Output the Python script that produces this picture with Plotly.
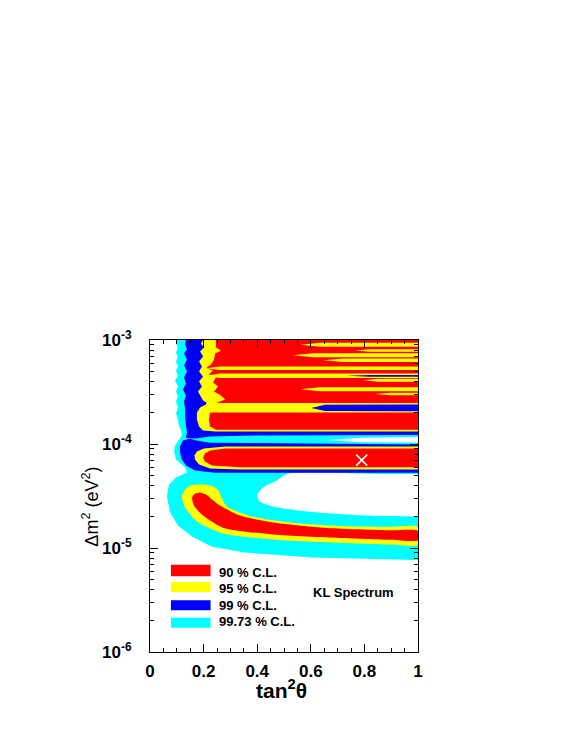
import plotly.graph_objects as go

# allowed regions as (tan^2 theta, dm^2 [eV^2]) outlines
cyan_region = [(0.101, 1.00e-3), (1.0, 1.00e-3), (1.0, 7.66e-6), (0.604, 8.10e-6), (0.354, 9.05e-6),
               (0.231, 1.03e-5), (0.157, 1.29e-5), (0.104, 1.65e-5), (0.075, 2.19e-5), (0.063, 3.13e-5),
               (0.071, 4.08e-5), (0.097, 4.76e-5), (0.138, 5.32e-5), (0.131, 5.94e-5), (0.097, 7.10e-5),
               (0.090, 8.47e-5), (0.093, 9.67e-5), (0.108, 1.10e-4), (0.119, 1.21e-4), (0.116, 1.35e-4),
               (0.108, 1.51e-4), (0.104, 1.72e-4), (0.097, 1.96e-4), (0.104, 2.24e-4), (0.097, 2.56e-4),
               (0.104, 2.86e-4), (0.097, 3.20e-4), (0.104, 3.57e-4), (0.093, 4.08e-4), (0.104, 4.56e-4),
               (0.097, 5.09e-4), (0.104, 5.56e-4), (0.097, 6.21e-4), (0.104, 6.94e-4), (0.097, 7.58e-4),
               (0.104, 8.47e-4), (0.097, 9.25e-4)]
white_gap = [(0.660, 1.09e-4), (0.784, 1.15e-4), (1.0, 1.165e-4), (1.0, 1.035e-4), (0.784, 1.04e-4)]
white_hole = [(1.0, 5.15e-5), (0.85, 5.15e-5), (0.511, 5.15e-5), (0.474, 4.46e-5), (0.422, 3.82e-5),
              (0.399, 3.20e-5), (0.410, 2.80e-5), (0.459, 2.51e-5), (0.586, 2.24e-5), (0.772, 2.07e-5),
              (0.90, 2.03e-5), (1.0, 2.01e-5)]

blue_upper = [(0.134, 1.00e-3), (1.0, 1.00e-3), (1.0, 1.22e-4), (0.410, 1.21e-4), (0.224, 1.18e-4),
              (0.168, 1.13e-4), (0.134, 1.15e-4), (0.138, 1.29e-4), (0.134, 1.51e-4), (0.131, 1.80e-4),
              (0.131, 2.15e-4), (0.127, 2.56e-4), (0.134, 2.93e-4), (0.123, 3.34e-4), (0.134, 3.82e-4),
              (0.127, 4.36e-4), (0.138, 4.98e-4), (0.127, 5.69e-4), (0.138, 6.49e-4), (0.127, 7.42e-4),
              (0.138, 8.10e-4), (0.131, 9.05e-4)]
blue_island = [(1.0, 9.89e-5), (0.410, 1.01e-4), (0.224, 1.03e-4), (0.172, 1.08e-4), (0.149, 1.13e-4),
               (0.123, 1.08e-4), (0.112, 9.46e-5), (0.112, 8.28e-5), (0.119, 7.10e-5), (0.134, 6.21e-5),
               (0.168, 5.56e-5), (0.243, 5.30e-5), (1.0, 5.30e-5)]

yellow_upper = [(0.198, 1.00e-3), (1.0, 1.00e-3), (1.0, 1.32e-4), (0.243, 1.32e-4), (0.198, 1.35e-4),
                (0.183, 1.47e-4), (0.175, 1.72e-4), (0.175, 2.01e-4), (0.187, 2.24e-4), (0.216, 2.45e-4),
                (0.198, 2.62e-4), (0.190, 2.86e-4), (0.179, 3.20e-4), (0.194, 3.57e-4), (0.183, 3.99e-4),
                (0.198, 4.46e-4), (0.183, 4.98e-4), (0.194, 5.56e-4), (0.183, 6.21e-4), (0.198, 6.94e-4),
                (0.187, 7.75e-4), (0.201, 8.47e-4), (0.190, 9.25e-4)]
yellow_island = [(1.0, 9.46e-5), (0.280, 9.46e-5), (0.201, 9.05e-5), (0.175, 8.47e-5), (0.166, 7.75e-5),
                 (0.168, 7.10e-5), (0.183, 6.35e-5), (0.224, 5.81e-5), (0.336, 5.69e-5), (1.0, 5.69e-5)]
yellow_lower = [(0.149, 3.99e-5), (0.175, 4.08e-5), (0.216, 4.04e-5), (0.243, 3.82e-5), (0.257, 3.49e-5),
                (0.265, 3.13e-5), (0.287, 2.51e-5), (0.373, 2.03e-5), (0.522, 1.76e-5), (0.709, 1.63e-5),
                (0.90, 1.60e-5), (1.0, 1.59e-5), (1.0, 1.07e-5), (0.90, 1.08e-5), (0.709, 1.12e-5),
                (0.459, 1.21e-5), (0.272, 1.38e-5), (0.175, 1.80e-5), (0.127, 2.56e-5), (0.119, 3.13e-5),
                (0.131, 3.65e-5)]

red_upper = [(0.246, 1.00e-3), (1.0, 1.00e-3), (1.0, 1.37e-4), (0.246, 1.37e-4), (0.224, 1.47e-4),
             (0.220, 1.72e-4), (0.224, 2.01e-4), (0.243, 2.45e-4), (0.280, 2.68e-4), (0.265, 2.93e-4),
             (0.239, 3.20e-4), (0.254, 3.57e-4), (0.235, 3.90e-4), (0.246, 4.36e-4), (0.220, 4.66e-4),
             (0.235, 5.09e-4), (0.209, 5.38e-4), (0.228, 5.81e-4), (0.239, 6.49e-4), (0.243, 7.42e-4),
             (0.265, 7.93e-4), (0.246, 8.47e-4)]
red_island = [(1.0, 9.05e-5), (0.280, 9.05e-5), (0.224, 8.66e-5), (0.205, 8.10e-5), (0.198, 7.42e-5),
              (0.205, 6.79e-5), (0.231, 6.21e-5), (0.336, 5.97e-5), (1.0, 5.97e-5)]
red_lower = [(0.187, 3.42e-5), (0.209, 3.27e-5), (0.231, 2.93e-5), (0.261, 2.56e-5), (0.336, 2.05e-5),
             (0.459, 1.76e-5), (0.646, 1.57e-5), (0.90, 1.48e-5), (1.0, 1.46e-5), (1.0, 1.19e-5),
             (0.90, 1.20e-5), (0.709, 1.25e-5), (0.459, 1.35e-5), (0.272, 1.57e-5), (0.198, 2.05e-5),
             (0.164, 2.56e-5), (0.157, 3.06e-5), (0.168, 3.34e-5)]

# 95% streaks cutting through the 90% region above 1e-4
yellow_streaks = [
    [(0.560, 8.99e-4), (0.634, 9.40e-4), (1.0, 9.40e-4), (1.0, 8.60e-4), (0.634, 8.60e-4)],
    [(0.765, 7.93e-4), (0.821, 8.14e-4), (1.0, 8.14e-4), (1.0, 7.72e-4), (0.821, 7.72e-4)],
    [(0.534, 7.13e-4), (0.608, 7.45e-4), (1.0, 7.45e-4), (1.0, 6.82e-4), (0.608, 6.82e-4)],
    [(0.646, 6.38e-4), (0.720, 6.64e-4), (1.0, 6.64e-4), (1.0, 6.13e-4), (0.720, 6.13e-4)],
    [(0.209, 5.35e-4), (0.261, 5.55e-4), (1.0, 5.55e-4), (1.0, 5.15e-4), (0.261, 5.15e-4)],
    [(0.209, 4.53e-4), (0.261, 4.75e-4), (1.0, 4.75e-4), (1.0, 4.31e-4), (0.261, 4.31e-4)],
    [(0.795, 4.10e-4), (0.851, 4.24e-4), (1.0, 4.24e-4), (1.0, 3.96e-4), (0.851, 3.96e-4)],
    [(0.560, 3.37e-4), (0.634, 3.52e-4), (1.0, 3.52e-4), (1.0, 3.22e-4), (0.634, 3.22e-4)],
    [(0.840, 3.03e-4), (0.896, 3.11e-4), (1.0, 3.11e-4), (1.0, 2.95e-4), (0.896, 2.95e-4)],
    [(0.209, 2.48e-4), (1.0, 2.48e-4), (1.0, 2.01e-4), (0.216, 2.01e-4)],
]
blue_streaks = [
    [(0.735, 4.53e-4), (0.821, 4.62e-4), (1.0, 4.62e-4), (1.0, 4.44e-4), (0.821, 4.44e-4)],
    [(0.601, 2.22e-4), (0.653, 2.38e-4), (1.0, 2.40e-4), (1.0, 2.06e-4), (0.653, 2.08e-4)],
]

best_fit = (0.79, 7.0e-5)

cl_labels = ["90 % C.L.", "95 % C.L.", "99 % C.L.", "99.73 % C.L."]
cl_colors = ["#ff0000", "#ffff00", "#0000ff", "#00ffff"]
RED, YELLOW, BLUE, CYAN = cl_colors

# (outline, colour, smooth?)
layers = [(cyan_region, CYAN, False), (white_gap, "white", False), (white_hole, "white", True),
          (blue_upper, BLUE, False), (blue_island, BLUE, False),
          (yellow_upper, YELLOW, False), (yellow_island, YELLOW, False), (yellow_lower, YELLOW, True),
          (red_upper, RED, False), (red_island, RED, False), (red_lower, RED, True)]
layers += [(s, YELLOW, False) for s in yellow_streaks]
layers += [(s, BLUE, False) for s in blue_streaks]

fig = go.Figure()
for pts, col, smooth in layers:
    fig.add_trace(go.Scatter(x=[p[0] for p in pts], y=[p[1] for p in pts],
                             mode="lines", fill="toself", fillcolor=col,
                             line=dict(width=0, shape="spline" if smooth else "linear", smoothing=0.7),
                             hoverinfo="skip"))

fig.add_trace(go.Scatter(x=[best_fit[0]], y=[best_fit[1]], mode="markers",
                         marker=dict(symbol="x-thin", size=11, line=dict(color="white", width=1.5)),
                         hoverinfo="skip"))

font = "Liberation Sans, Arial, sans-serif"

# legend drawn by hand, like the ROOT box
box_y = [(0.243, 0.280), (0.192, 0.224), (0.134, 0.166), (0.078, 0.110)]
text_y = [0.256, 0.203, 0.150, 0.099]
for lab, col, (y0, y1), ty in zip(cl_labels, cl_colors, box_y, text_y):
    fig.add_shape(type="rect", xref="paper", yref="paper", x0=0.078, x1=0.226, y0=y0, y1=y1,
                  fillcolor=col, line=dict(width=0), layer="above")
    fig.add_annotation(x=0.249, y=ty, xref="paper", yref="paper", text=lab, showarrow=False,
                       xanchor="left", yanchor="middle",
                       font=dict(family=font, size=13, color="black", weight="bold"))

fig.add_annotation(x=0.759, y=0.191, xref="paper", yref="paper", text="KL Spectrum", showarrow=False,
                   xanchor="center", yanchor="middle",
                   font=dict(family=font, size=13, color="black", weight="bold"))
fig.add_annotation(x=0.491, y=-0.12, xref="paper", yref="paper", text="tan<sup>2</sup>θ", showarrow=False,
                   xanchor="center", yanchor="middle",
                   font=dict(family=font, size=21, color="black", weight="bold"))
fig.add_annotation(x=-0.220, y=0.466, xref="paper", yref="paper", text="Δm<sup>2</sup> (eV<sup>2</sup>)",
                   showarrow=False, textangle=-90, xanchor="center", yanchor="middle",
                   font=dict(family=font, size=18, color="black"))

# the page body adds an 8 px margin, so the figure is 8 px smaller on each side
fig.update_layout(
    width=562, height=729,
    margin=dict(l=142, r=152, t=332, b=85),
    paper_bgcolor="white", plot_bgcolor="white",
    showlegend=False,
    xaxis=dict(range=[0, 1], tickvals=[0, 0.2, 0.4, 0.6, 0.8, 1],
               ticktext=["0", "0.2", "0.4", "0.6", "0.8", "1"],
               ticks="inside", ticklen=8, tickcolor="black", mirror="ticks",
               showline=True, linecolor="black", linewidth=1, showgrid=False, zeroline=False,
               minor=dict(dtick=0.05, ticks="inside", ticklen=4, tickcolor="black"),
               tickfont=dict(family=font, size=17, color="black", weight="bold"), ticklabelstandoff=4),
    yaxis=dict(type="log", range=[-6, -3], tickvals=[1e-6, 1e-5, 1e-4, 1e-3],
               ticktext=["10<sup>-6</sup>", "10<sup>-5</sup>", "10<sup>-4</sup>", "10<sup>-3</sup>"],
               ticks="inside", ticklen=8, tickcolor="black", mirror="ticks",
               showline=True, linecolor="black", linewidth=1, showgrid=False, zeroline=False,
               minor=dict(dtick="D1", ticks="inside", ticklen=4, tickcolor="black"),
               tickfont=dict(family=font, size=17, color="black", weight="bold"), ticklabelstandoff=14),
)

fig.write_html("out.html")
